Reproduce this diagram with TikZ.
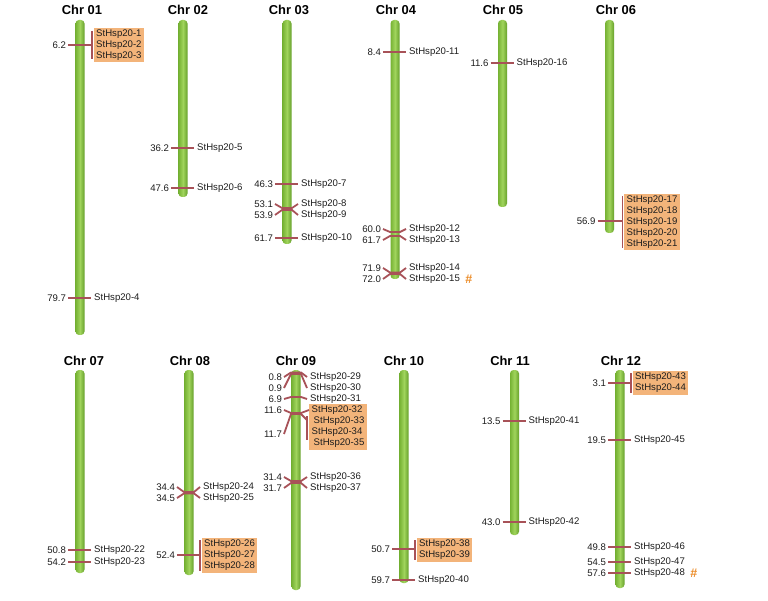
\documentclass[tikz,border=0pt]{standalone}
\usepackage{fontspec}
\setmainfont{Liberation Sans}
\definecolor{txt}{RGB}{30,30,30}
\definecolor{mk}{RGB}{168,82,88}
\definecolor{boxc}{RGB}{243,180,122}
\definecolor{hashc}{RGB}{236,140,40}
\definecolor{gedgeL}{RGB}{118,178,52}
\definecolor{gmid}{RGB}{160,212,92}
\definecolor{gedgeR}{RGB}{102,160,42}
\tikzset{
  num/.style={font=\fontsize{9.6}{11}\selectfont, text=txt, inner sep=1.8pt, anchor=east},
  lab/.style={font=\fontsize{9.6}{11}\selectfont, text=txt, inner sep=3pt, anchor=west},
  ttl/.style={font=\fontsize{12.9}{14}\selectfont\bfseries, text=black, inner sep=0pt},
  mline/.style={draw=mk, line width=1.8pt},
  gbox/.style={fill=boxc, font=\fontsize{9.6}{11}\selectfont, text=txt, align=left, inner xsep=2.5pt, inner ysep=2pt, anchor=west},
  chrom/.style={rounded corners=3.5pt, left color=gedgeL, right color=gedgeR, middle color=gmid, minimum width=9pt, inner sep=0pt},
  hsh/.style={text=hashc, font=\fontsize{12.5}{14}\selectfont\bfseries, anchor=west, inner sep=0pt, xshift=2pt}
}
\newcommand{\chromo}[4]{\node[chrom, minimum height={#4-#3}] (chr#1) at (#2,{(#3+#4)/2}) {};}
\newcommand{\mkr}[7]{%
  \node[num] (n#1) at ({#2-12},#4) {#6};
  \node[lab] (l#1) at ({#2+11},#5) {#7};
  \coordinate (a#1) at ({#2-5},#3);
  \coordinate (b#1) at ({#2+5},#3);
  \draw[mline] (n#1.east) -- (a#1) -- (b#1) -- (l#1.west);
}
\newcommand{\mkg}[8]{%
  \node[num] (n#1) at ({#2-12},#3) {#4};
  \coordinate (a#1) at ({#2-5},#3);
  \coordinate (b#1) at ({#2+5},#3);
  \coordinate (k#1) at ({#2+#5},#3);
  \coordinate (kt#1) at ({#2+#5},#6);
  \coordinate (kb#1) at ({#2+#5},#7);
  \node[gbox] (g#1) at ({#2+#5+1.5},{(#6+#7)/2}) {#8};
  \draw[mline] (n#1.east) -- (a#1) -- (b#1) -- (k#1);
  \draw[mline] (kt#1) -- (kb#1);
}
\begin{document}
\begin{tikzpicture}[x=1pt,y=-1pt]
\useasboundingbox (0,0) rectangle (768,601);
\fill[white] (0,0) rectangle (768,601);
% titles
\node[ttl] (t1) at (82,10) {Chr 01};
\node[ttl] (t2) at (188,10) {Chr 02};
\node[ttl] (t3) at (289,10) {Chr 03};
\node[ttl] (t4) at (396,10) {Chr 04};
\node[ttl] (t5) at (503,10) {Chr 05};
\node[ttl] (t6) at (616,10) {Chr 06};
\node[ttl] (t7) at (84,361) {Chr 07};
\node[ttl] (t8) at (190,361) {Chr 08};
\node[ttl] (t9) at (296,361) {Chr 09};
\node[ttl] (t10) at (404,361) {Chr 10};
\node[ttl] (t11) at (510,361) {Chr 11};
\node[ttl] (t12) at (621,361) {Chr 12};
% chromosomes
\chromo{1}{80}{20}{335}
\chromo{2}{183}{20}{197}
\chromo{3}{287}{20}{244}
\chromo{4}{395}{20}{279}
\chromo{5}{502.5}{20}{207}
\chromo{6}{609.5}{20}{233}
\chromo{7}{80}{370}{573}
\chromo{8}{189}{370}{575}
\chromo{9}{296}{370}{590}
\chromo{10}{404}{370}{583}
\chromo{11}{514.5}{370}{535}
\chromo{12}{620}{370}{588}
% top row markers
\mkg{1}{80}{45}{6.2}{12}{31}{59}{StHsp20-1\\StHsp20-2\\StHsp20-3}
\mkr{4}{80}{298}{298}{298}{79.7}{StHsp20-4}
\mkr{5}{183}{148}{148}{148}{36.2}{StHsp20-5}
\mkr{6}{183}{188}{188}{188}{47.6}{StHsp20-6}
\mkr{7}{287}{184}{184}{184}{46.3}{StHsp20-7}
\mkr{8}{287}{208}{204}{204}{53.1}{StHsp20-8}
\mkr{9}{287}{210}{215}{215}{53.9}{StHsp20-9}
\mkr{10}{287}{238}{238}{238}{61.7}{StHsp20-10}
\mkr{11}{395}{52}{52}{52}{8.4}{StHsp20-11}
\mkr{12}{395}{232}{229}{229}{60.0}{StHsp20-12}
\mkr{13}{395}{236}{240}{240}{61.7}{StHsp20-13}
\mkr{14}{395}{272.5}{268}{268}{71.9}{StHsp20-14}
\mkr{15}{395}{274}{279}{279}{72.0}{StHsp20-15}
\node[hsh] (h15) at (l15.east) {\#};
\mkr{16}{502.5}{63}{63}{63}{11.6}{StHsp20-16}
\mkg{17}{609.5}{221}{56.9}{13}{196}{248}{StHsp20-17\\StHsp20-18\\StHsp20-19\\StHsp20-20\\StHsp20-21}
% bottom row markers
\mkr{22}{80}{550}{550}{550}{50.8}{StHsp20-22}
\mkr{23}{80}{562}{562}{562}{54.2}{StHsp20-23}
\mkr{24}{189}{492}{487}{487}{34.4}{StHsp20-24}
\mkr{25}{189}{493.5}{498}{498}{34.5}{StHsp20-25}
\mkg{26}{189}{555}{52.4}{11}{540}{571}{StHsp20-26\\StHsp20-27\\StHsp20-28}
\mkr{29}{296}{372.5}{377}{377}{0.8}{StHsp20-29}
\mkr{30}{296}{374}{388}{388}{0.9}{StHsp20-30}
\mkr{31}{296}{397}{399}{399}{6.9}{StHsp20-31}
% chr09 group 32-35
\node[gbox] (g32) at (309,427) {StHsp20-32\\\hspace*{2pt}StHsp20-33\\StHsp20-34\\\hspace*{2pt}StHsp20-35};
\node[num] (n32) at (284,410) {11.6};
\node[num] (n33) at (284,434) {11.7};
\coordinate (a32) at (291,413);
\coordinate (b32) at (301,413);
\coordinate (a33) at (291,414);
\coordinate (b33) at (301,414);
\coordinate (k32) at (309,410);
\coordinate (k33) at (307,420);
\coordinate (kt33) at (307,416);
\coordinate (kb33) at (307,440);
\draw[mline] (n32.east) -- (a32) -- (b32) -- (k32);
\draw[mline] (n33.east) -- (a33) -- (b33) -- (k33);
\draw[mline] (kt33) -- (kb33);
\mkr{36}{296}{481}{477}{477}{31.4}{StHsp20-36}
\mkr{37}{296}{483}{488}{488}{31.7}{StHsp20-37}
\mkg{38}{404}{549}{50.7}{11}{540}{560}{StHsp20-38\\StHsp20-39}
\mkr{40}{404}{580}{580}{580}{59.7}{StHsp20-40}
\mkr{41}{514.5}{421}{421}{421}{13.5}{StHsp20-41}
\mkr{42}{514.5}{522}{522}{522}{43.0}{StHsp20-42}
\mkg{43}{620}{383}{3.1}{11}{373}{393}{StHsp20-43\\StHsp20-44}
\mkr{45}{620}{440}{440}{440}{19.5}{StHsp20-45}
\mkr{46}{620}{547}{547}{547}{49.8}{StHsp20-46}
\mkr{47}{620}{562}{562}{562}{54.5}{StHsp20-47}
\mkr{48}{620}{573}{573}{573}{57.6}{StHsp20-48}
\node[hsh] (h48) at (l48.east) {\#};
\end{tikzpicture}
\end{document}
